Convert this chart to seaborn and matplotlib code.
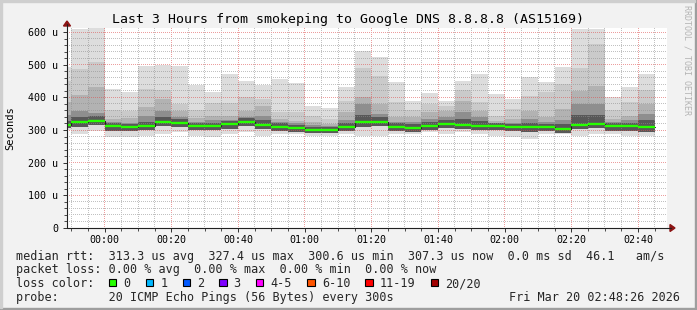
import matplotlib
matplotlib.use("Agg")
import matplotlib.pyplot as plt
import matplotlib.dates as mdates
import matplotlib.ticker as mticker
from matplotlib.patches import Rectangle, Polygon
from matplotlib.lines import Line2D
import numpy as np
import pandas as pd
import seaborn as sns

# ---------------- data ----------------
first_bin = "2026-03-19 23:45"          # 5-minute RRD steps
view_start = "2026-03-19 23:48:40"
view_end = "2026-03-20 02:48:40"

# median rtt per 5-min step (microseconds)
median = [316, 323, 327, 312, 309, 312, 325, 322, 312, 312, 317, 325,
          316, 310, 306, 301, 301, 310, 325, 325, 310, 307, 313, 318,
          315, 313, 313, 308, 308, 308, 304, 316, 319, 311, 311, 308]
# smoke: outer (lightest) to inner (darkest) upper edges
smoke_u1 = [494, 609, 611, 425, 415, 497, 500, 497, 439, 415, 471, 451,
            439, 456, 443, 374, 366, 433, 543, 524, 448, 390, 413, 390,
            451, 471, 410, 395, 461, 448, 494, 609, 609, 402, 433, 471]
smoke_u2 = [450, 487, 507, 361, 357, 425, 422, 380, 361, 382, 383, 402,
            395, 356, 354, 344, 334, 390, 490, 466, 385, 361, 380, 374,
            422, 385, 344, 364, 405, 415, 441, 490, 563, 361, 385, 422]
smoke_u3 = [385, 407, 433, 334, 336, 369, 395, 357, 337, 344, 342, 357,
            374, 334, 329, 323, 318, 354, 402, 380, 339, 341, 354, 359,
            388, 359, 329, 334, 359, 339, 364, 420, 436, 334, 344, 380]
smoke_u4 = [345, 357, 351, 325, 322, 344, 357, 340, 326, 330, 332, 340,
            344, 325, 320, 315, 312, 330, 380, 349, 326, 325, 335, 340,
            354, 340, 322, 322, 335, 325, 330, 380, 380, 326, 330, 349]
smoke_core = [328, 340, 342, 322, 318, 326, 340, 335, 322, 322, 328, 338,
              330, 320, 315, 310, 308, 322, 345, 340, 320, 318, 325, 330,
              335, 328, 320, 318, 322, 318, 318, 345, 345, 322, 322, 330]
# lower edges
smoke_l1 = [300, 288, 296, 278, 278, 283, 288, 293, 283, 278, 288, 293,
            283, 288, 288, 283, 283, 288, 283, 283, 288, 288, 293, 288,
            293, 288, 283, 278, 273, 288, 288, 283, 288, 288, 283, 283]
smoke_l2 = [305, 310, 314, 298, 297, 300, 312, 310, 300, 300, 304, 312,
            303, 298, 294, 290, 290, 297, 310, 312, 297, 295, 300, 305,
            302, 300, 300, 296, 295, 296, 292, 303, 306, 298, 298, 295]

y_ticks = [0, 100, 200, 300, 400, 500, 600]
y_tick_labels = ["0", "100 u", "200 u", "300 u", "400 u", "500 u", "600 u"]

title = "Last 3 Hours from smokeping to Google DNS 8.8.8.8 (AS15169)"
row1 = ("median rtt:  313.3 us avg  327.4 us max  300.6 us min  "
        "307.3 us now  0.0 ms sd  46.1   am/s")
row2 = "packet loss: 0.00 % avg  0.00 % max  0.00 % min  0.00 % now"
row4 = "probe:       20 ICMP Echo Pings (56 Bytes) every 300s"
loss_labels = ["0", "1", "2", "3", "4-5", "6-10", "11-19", "20/20"]
loss_colors = ["#26ff00", "#00b8ff", "#0059ff", "#7e00ff", "#ff00ff",
               "#ff5500", "#ff0000", "#a10000"]
loss_box_x = [108.7, 145.7, 182.7, 219.0, 255.7, 307.3, 365.0, 430.7]
stamp = "Fri Mar 20 02:48:26 2026"

# ---------------- figure ----------------
sns.set_theme(style="white")
plt.rcParams["font.family"] = ["DejaVu Sans Mono", "DejaVu Sans"]

W, H = 697, 310
fig = plt.figure(figsize=(W / 100, H / 100), dpi=100)
fig.patch.set_facecolor("#f2f2f2")

PL, PR, PB, PT = 67, 667, 228, 28
ax = fig.add_axes([PL / W, (H - PB) / H, (PR - PL) / W, (PB - PT) / H])
ax.set_facecolor("white")

starts = pd.date_range(first_bin, periods=len(median), freq="5min")
edges = starts.append(pd.DatetimeIndex([starts[-1] + pd.Timedelta(minutes=5)]))
xe = mdates.date2num(edges.to_pydatetime())


def ext(a):
    return list(a) + [a[-1]]


bands = [(smoke_l1, smoke_u1, "#dddddd"),
         (smoke_l2, smoke_u2, "#cacaca"),
         (smoke_l2, smoke_u3, "#b2b2b2"),
         (smoke_l2, smoke_u4, "#8e8e8e"),
         (smoke_l2, smoke_core, "#585858")]
for lo, hi, c in bands:
    ax.fill_between(xe, ext(lo), ext(hi), step="post", color=c, lw=0, zorder=1)

df = pd.DataFrame({"t": xe, "median": ext(median)})
sns.lineplot(data=df, x="t", y="median", drawstyle="steps-post", color="#202020",
             lw=0.8, estimator=None, ax=ax, zorder=3)
ax.hlines(median, xe[:-1], xe[1:], colors=loss_colors[0], lw=1.7, zorder=4)

x0 = mdates.date2num(pd.Timestamp(view_start))
x1 = mdates.date2num(pd.Timestamp(view_end))
ytop = 600 * (PB - PT) / (PB - 32)       # 600 u sits at pixel row 32
ax.set_xlim(x0, x1)
ax.set_ylim(0, ytop)
ax.set_xlabel("")
ax.set_ylabel("")

ax.xaxis.set_major_locator(mdates.MinuteLocator(byminute=[0, 20, 40]))
ax.xaxis.set_minor_locator(mdates.MinuteLocator(byminute=range(0, 60, 5)))
ax.xaxis.set_major_formatter(mdates.DateFormatter("%H:%M"))
ax.yaxis.set_major_locator(mticker.FixedLocator(y_ticks))
ax.yaxis.set_major_formatter(mticker.FixedFormatter(y_tick_labels))
ax.yaxis.set_minor_locator(mticker.MultipleLocator(20))
ax.grid(False)

# pixel-exact dotted grid (rrdtool style) laid over the smoke
aw, ah = PR - PL, PB - PT
grid_img = np.zeros((ah, aw, 4))
minor_rgba = (0.56, 0.56, 0.56, 0.55)
major_rgba = (0.87, 0.31, 0.31, 0.55)


def col_of(xv):
    return int(np.floor(ax.transData.transform((xv, 0))[0] - PL + 1e-6))


def row_of(yv):
    return int(np.floor(H - ax.transData.transform((x0, yv))[1] - PT + 1e-6))


for locs, rgba in [(ax.xaxis.get_minorticklocs(), minor_rgba),
                   (ax.xaxis.get_majorticklocs(), major_rgba)]:
    for xv in locs:
        c = col_of(xv)
        if 0 < c < aw:
            grid_img[0::2, c] = rgba
for locs, rgba in [(ax.yaxis.get_minorticklocs(), minor_rgba),
                   (ax.yaxis.get_majorticklocs(), major_rgba)]:
    for yv in locs:
        r = row_of(yv)
        if 0 <= r < ah - 1:
            grid_img[r, 0::2] = rgba
ax.imshow(grid_img, extent=[x0, x1, 0, ytop], aspect="auto",
          interpolation="nearest", zorder=2)
ax.set_xlim(x0, x1)
ax.set_ylim(0, ytop)

ax.tick_params(which="major", length=3, width=0.7, color="#303030",
               labelsize=7.2, labelcolor="#000000", pad=3.5,
               bottom=True, left=True)
ax.tick_params(which="minor", length=2, width=0.6, color="#303030",
               bottom=True, left=True)
ax.tick_params(axis="x", pad=1.8)
for s in ax.spines.values():
    s.set_visible(False)


def P(x, y):
    return (x / 100, (H - y) / 100)


tr = fig.dpi_scale_trans
# axes lines with arrows
fig.add_artist(Line2D([P(PL, PB)[0], P(671, PB)[0]], [P(PL, PB)[1]] * 2,
                      color="#212121", lw=0.8, transform=tr))
fig.add_artist(Line2D([P(PL, PB)[0]] * 2, [P(PL, PB)[1], P(PL, 24)[1]],
                      color="#212121", lw=0.8, transform=tr))
fig.add_artist(Polygon([P(670, 224.5), P(675, 228), P(670, 231.5)],
                       closed=True, color="#8c1414", transform=tr))
fig.add_artist(Polygon([P(63.5, 26), P(67, 21), P(70.5, 26)],
                       closed=True, color="#8c1414", transform=tr))

# titles
fig.text(348.5 / W, 1 - 19 / H, title, ha="center", va="center", fontsize=9.5,
         color="#000000")
fig.text(10 / W, 1 - 128 / H, "Seconds", rotation=90, ha="center", va="center",
         fontsize=7.5, color="#000000")
fig.text(687 / W, 1 - 60 / H, "RRDTOOL / TOBI OETIKER", rotation=270,
         ha="center", va="center", fontsize=6, color="#b4b4b4")

# legend rows
LF = 8.5
rows_y = [254.7, 268.0, 282.3, 295.7]
fig.text(16 / W, 1 - rows_y[0] / H, row1, ha="left", va="center_baseline",
         fontsize=LF)
fig.text(16 / W, 1 - rows_y[1] / H, row2, ha="left", va="center_baseline",
         fontsize=LF)
fig.text(16 / W, 1 - rows_y[2] / H, "loss color:", ha="left",
         va="center_baseline", fontsize=LF)
for lab, col, bx in zip(loss_labels, loss_colors, loss_box_x):
    fig.add_artist(Rectangle(P(bx, rows_y[2] + 3.8), 0.075, 0.075,
                             facecolor=col, edgecolor="#000000", lw=0.8,
                             transform=tr))
    fig.text((bx + 14.6) / W, 1 - rows_y[2] / H, lab, ha="left",
             va="center_baseline", fontsize=LF)
fig.text(16 / W, 1 - rows_y[3] / H, row4, ha="left", va="center_baseline",
         fontsize=LF)
fig.text(680 / W, 1 - rows_y[3] / H, stamp, ha="right", va="center_baseline",
         fontsize=LF)

# 3-D frame of the canvas
fig.add_artist(Rectangle((0, 0), W / 100, 0.02, color="#9e9e9e", transform=tr))
fig.add_artist(Rectangle(((W - 2) / 100, 0), 0.02, H / 100, color="#9e9e9e",
                         transform=tr))
fig.add_artist(Rectangle((0, (H - 2) / 100), (W - 2) / 100, 0.02,
                         color="#cfcfcf", transform=tr))
fig.add_artist(Rectangle((0, 0.02), 0.02, (H - 2) / 100, color="#cfcfcf",
                         transform=tr))

fig.savefig("out.png", dpi=100, facecolor=fig.get_facecolor())
